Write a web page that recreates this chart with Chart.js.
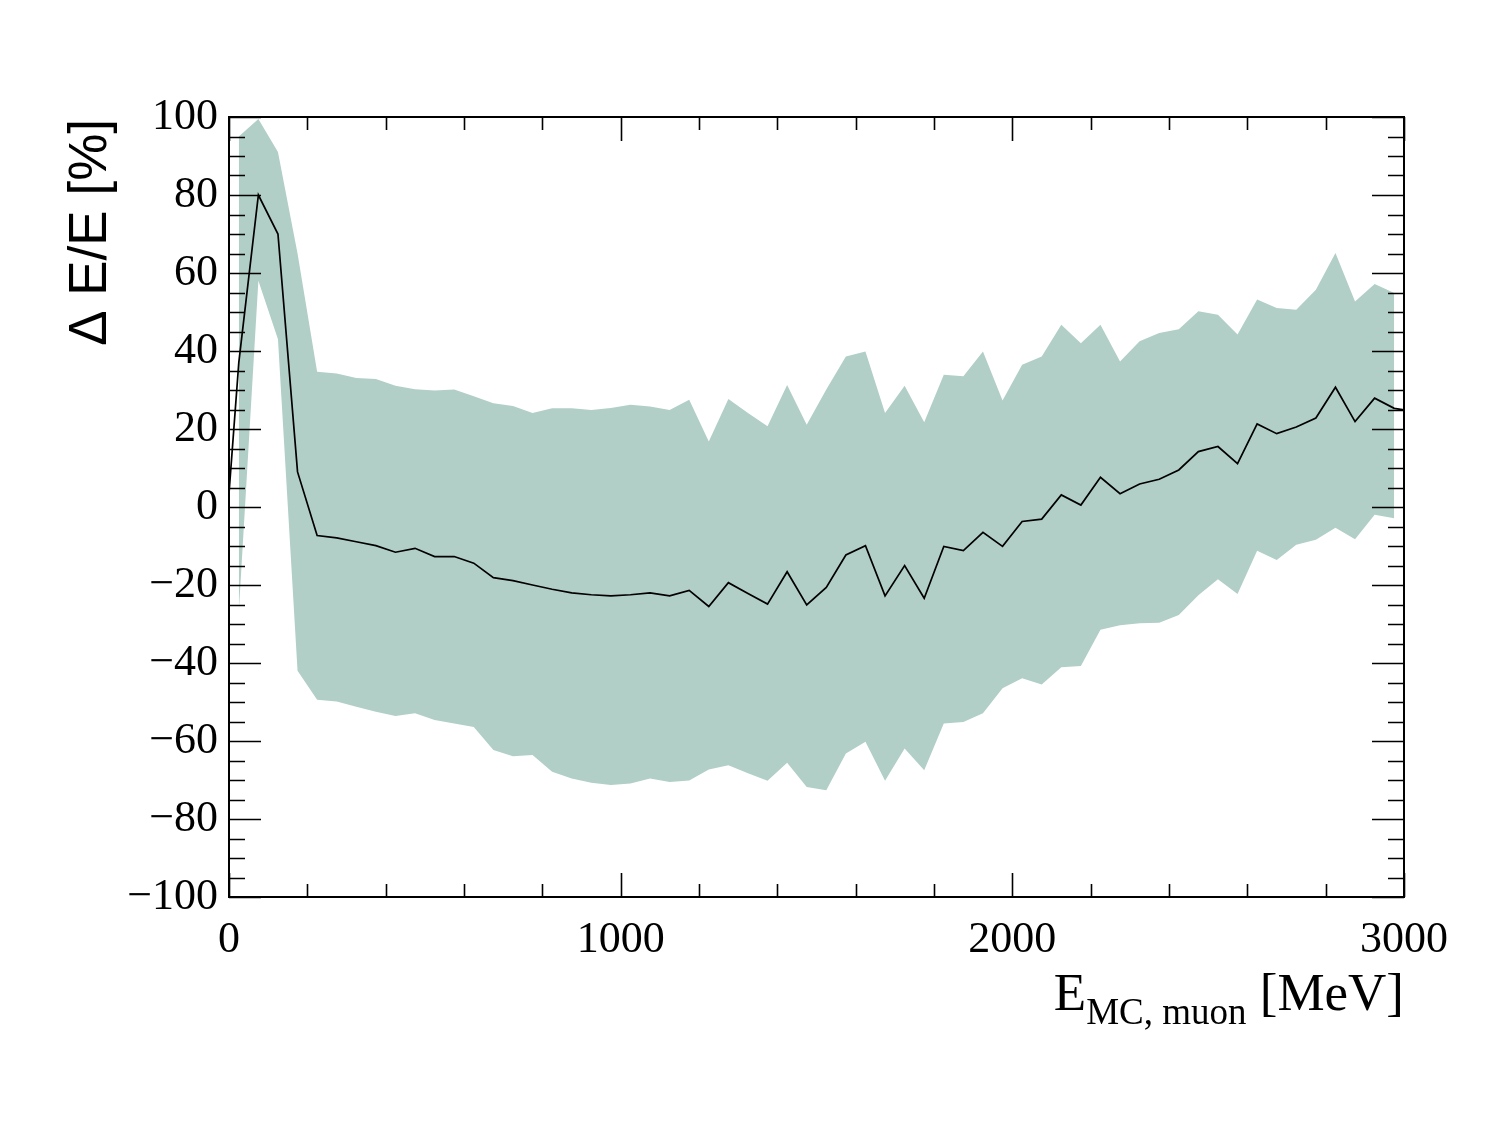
<!DOCTYPE html>
<html>
<head>
<meta charset="utf-8">
<script src="https://cdn.jsdelivr.net/npm/chart.js@4.4.1/dist/chart.umd.min.js"></script>
<style>
  html, body { margin: 0; padding: 0; background: #fff; }
  #wrap { width: 1500px; height: 1125px; }
</style>
</head>
<body>
<div id="wrap"><canvas id="res" width="1500" height="1125"></canvas></div>
<script>
// ── DATA — energy resolution vs. MC muon energy ──

// band bin centres [MeV]
const binX = [
  25, 75, 125, 175, 225, 275, 325, 375, 425, 475,
  525, 575, 625, 675, 725, 775, 825, 875, 925, 975,
  1025, 1075, 1125, 1175, 1225, 1275, 1325, 1375, 1425, 1475,
  1525, 1575, 1625, 1675, 1725, 1775, 1825, 1875, 1925, 1975,
  2025, 2075, 2125, 2175, 2225, 2275, 2325, 2375, 2425, 2475,
  2525, 2575, 2625, 2675, 2725, 2775, 2825, 2875, 2925, 2975
];

// upper edge of the band [%]
const bandHigh = [
  95, 99.5, 91, 65, 34.7, 34.2, 33.1, 32.8, 31.1, 30.2,
  29.9, 30.1, 28.4, 26.6, 25.9, 24.1, 25.3, 25.3, 24.9, 25.4,
  26.2, 25.8, 24.9, 27.5, 16.8, 27.7, 24.1, 20.7, 31.3, 21.1,
  30.1, 38.6, 39.9, 24.1, 31.1, 21.7, 33.9, 33.5, 39.9, 27.3,
  36.5, 38.6, 46.7, 42.0, 46.7, 37.3, 42.5, 44.6, 45.6, 50.2,
  49.3, 44.2, 53.2, 51.0, 50.6, 55.7, 65.1, 52.7, 57.2, 54.9
];

// lower edge of the band [%]
const bandLow = [
  -27, 58, 43, -42, -49.4, -49.9, -51.2, -52.5, -53.6, -52.9,
  -54.6, -55.5, -56.4, -62.3, -63.9, -63.6, -67.9, -69.6, -70.7, -71.3,
  -70.9, -69.6, -70.5, -70.1, -67.3, -66.2, -68.3, -70.2, -65.6, -71.8,
  -72.6, -63.2, -60.2, -70.2, -61.9, -67.5, -55.5, -55.1, -52.9, -46.5,
  -43.9, -45.5, -41.1, -40.8, -31.5, -30.3, -29.8, -29.7, -27.7, -22.6,
  -18.5, -22.3, -11.2, -13.6, -9.7, -8.4, -5.3, -8.3, -2.0, -2.9
];

// central curve, runs from 0 to 3000 MeV
const meanX = [
  0, 25, 75, 125, 175, 225, 275, 325, 375, 425, 475,
  525, 575, 625, 675, 725, 775, 825, 875, 925, 975,
  1025, 1075, 1125, 1175, 1225, 1275, 1325, 1375, 1425, 1475,
  1525, 1575, 1625, 1675, 1725, 1775, 1825, 1875, 1925, 1975,
  2025, 2075, 2125, 2175, 2225, 2275, 2325, 2375, 2425, 2475,
  2525, 2575, 2625, 2675, 2725, 2775, 2825, 2875, 2925, 2975, 3000
];
const meanY = [
  3.5, 37, 80, 70, 9, -7.3, -7.9, -8.9, -9.9, -11.6, -10.6,
  -12.7, -12.7, -14.4, -18.1, -18.9, -20.0, -21.1, -22.0, -22.5, -22.8,
  -22.5, -22.0, -22.8, -21.4, -25.5, -19.4, -22.2, -24.9, -16.6, -25.1,
  -20.6, -12.3, -9.9, -22.8, -15.0, -23.4, -10.1, -11.2, -6.5, -10.1,
  -3.7, -3.1, 3.1, 0.5, 7.6, 3.4, 5.9, 7.1, 9.5, 14.2,
  15.5, 11.1, 21.3, 18.8, 20.5, 22.8, 30.7, 21.9, 27.9, 25.3, 24.9
];

// axes
const xRange = [0, 3000];
const yRange = [-100, 100];
const xLabelStep = 1000;
const yLabelStep = 20;
const xMinorStep = 200;
const yMinorStep = 5;

// ── HELPERS ──

function pts(xs, ys) {
  return xs.map((x, i) => ({ x, y: ys[i] }));
}

function fmtTick(v) {
  return v < 0 ? '\u2212' + Math.abs(v) : String(v);
}

const BAND = '#b1cfc7';
const SERIF = '"Liberation Serif", "DejaVu Serif", serif';
const SANS = '"Liberation Sans", Arial, sans-serif';

// ── ROOT-like frame, inward ticks and axis titles ──

const rootFrame = {
  id: 'rootFrame',
  beforeDraw(chart) {
    const { ctx } = chart;
    ctx.save();
    ctx.fillStyle = '#fff';
    ctx.fillRect(0, 0, chart.width, chart.height);
    ctx.restore();
  },
  afterDatasetsDraw(chart) {
    const { ctx, chartArea: a, scales: { x, y } } = chart;
    ctx.save();
    ctx.strokeStyle = '#000';
    ctx.lineWidth = 1.6;
    ctx.beginPath();
    for (let v = yRange[0]; v <= yRange[1]; v += yMinorStep) {
      const py = Math.round(y.getPixelForValue(v)) + 0.5;
      const len = v % yLabelStep === 0 ? 32 : 16;
      ctx.moveTo(a.left, py); ctx.lineTo(a.left + len, py);
      ctx.moveTo(a.right, py); ctx.lineTo(a.right - len, py);
    }
    for (let v = xRange[0]; v <= xRange[1]; v += xMinorStep) {
      const px = Math.round(x.getPixelForValue(v)) + 0.5;
      const len = v % xLabelStep === 0 ? 24 : 13;
      ctx.moveTo(px, a.bottom); ctx.lineTo(px, a.bottom - len);
      ctx.moveTo(px, a.top); ctx.lineTo(px, a.top + len);
    }
    ctx.stroke();

    ctx.lineWidth = 2;
    ctx.strokeRect(a.left, a.top, a.right - a.left, a.bottom - a.top);

    // y title, top aligned like ROOT
    ctx.fillStyle = '#000';
    ctx.font = '53px ' + SANS;
    ctx.translate(91, a.top + 2);
    ctx.rotate(-Math.PI / 2);
    ctx.textAlign = 'right';
    ctx.textBaseline = 'middle';
    ctx.fillText('\u0394 E/E [%]', 0, 0);
    ctx.setTransform(1, 0, 0, 1, 0, 0);

    // x title with subscript, right aligned
    const big = '53px ' + SERIF;
    const small = '37px ' + SERIF;
    ctx.textAlign = 'left';
    ctx.textBaseline = 'alphabetic';
    ctx.font = big;
    const wE = ctx.measureText('E').width;
    const wUnit = ctx.measureText(' [MeV]').width;
    ctx.font = small;
    const wSub = ctx.measureText('MC, muon').width;
    let px = a.right - (wE + wSub + wUnit);
    ctx.font = big;
    ctx.fillText('E', px, 1010);
    px += wE;
    ctx.font = small;
    ctx.fillText('MC, muon', px, 1024);
    px += wSub;
    ctx.font = big;
    ctx.fillText(' [MeV]', px, 1010);
    ctx.restore();
  }
};

// ── CHART ──

new Chart(document.getElementById('res'), {
  type: 'line',
  data: {
    datasets: [
      {
        label: 'mean',
        data: pts(meanX, meanY),
        borderColor: '#000',
        borderWidth: 1.7,
        pointRadius: 0,
        tension: 0,
        fill: false,
        order: 0,
      },
      {
        label: 'high',
        data: pts(binX, bandHigh),
        borderWidth: 0,
        borderColor: BAND,
        backgroundColor: BAND,
        pointRadius: 0,
        tension: 0,
        fill: '+1',
        order: 1,
      },
      {
        label: 'low',
        data: pts(binX, bandLow),
        borderWidth: 0,
        borderColor: BAND,
        backgroundColor: BAND,
        pointRadius: 0,
        tension: 0,
        fill: false,
        order: 2,
      },
    ]
  },
  options: {
    responsive: false,
    animation: false,
    devicePixelRatio: 1,
    layout: { padding: { left: 0, top: 117, right: 96, bottom: 0 } },
    plugins: { legend: { display: false }, tooltip: { enabled: false } },
    scales: {
      x: {
        type: 'linear',
        min: xRange[0],
        max: xRange[1],
        grid: { display: false, drawTicks: false },
        border: { display: false },
        ticks: {
          stepSize: xLabelStep,
          padding: 17,
          color: '#000',
          font: { family: SERIF, size: 44 },
          maxRotation: 0,
          callback: fmtTick,
        },
        afterFit(s) { s.height = 228; },
      },
      y: {
        min: yRange[0],
        max: yRange[1],
        grid: { display: false, drawTicks: false },
        border: { display: false },
        ticks: {
          stepSize: yLabelStep,
          padding: 11,
          color: '#000',
          font: { family: SERIF, size: 44 },
          callback: fmtTick,
        },
        afterFit(s) { s.width = 229; },
      }
    }
  },
  plugins: [rootFrame]
});
</script>
</body>
</html>
